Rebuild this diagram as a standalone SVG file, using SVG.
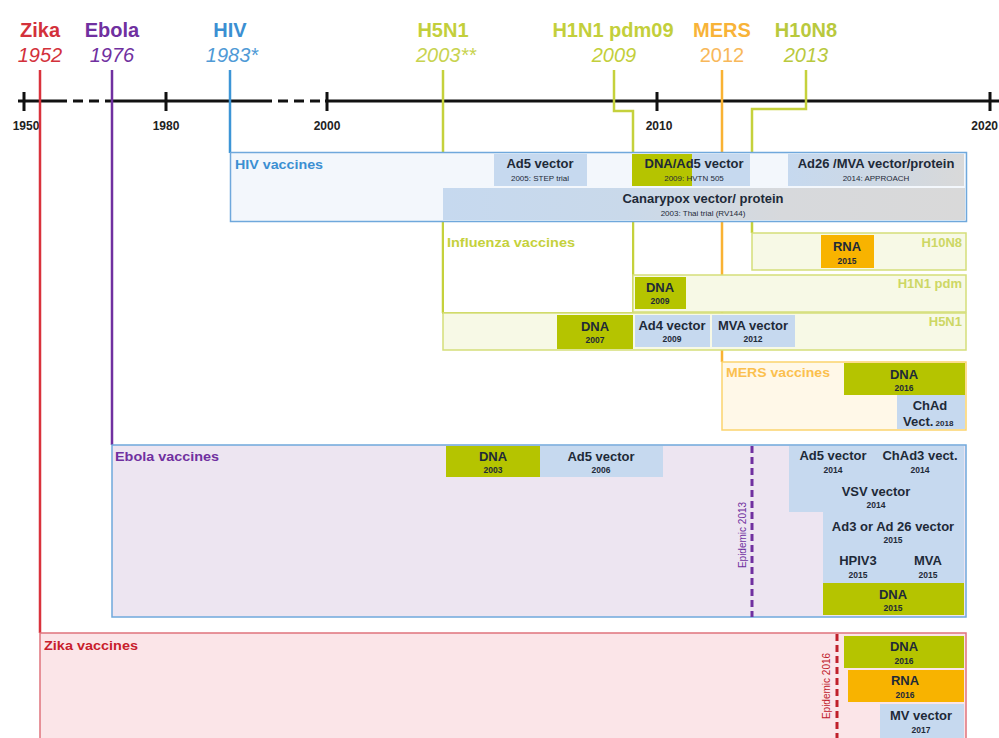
<svg xmlns="http://www.w3.org/2000/svg" width="999" height="738" viewBox="0 0 999 738">
<defs>
<linearGradient id="gCan" x1="0" x2="1" y1="0" y2="0">
<stop offset="0" stop-color="#c6d9ef"/><stop offset="0.35" stop-color="#c9d9ea"/><stop offset="0.65" stop-color="#d7d9dc"/><stop offset="1" stop-color="#d9d9d9"/>
</linearGradient>
<linearGradient id="gAd26" x1="0" x2="1" y1="0" y2="0">
<stop offset="0" stop-color="#c6d9ef"/><stop offset="0.5" stop-color="#cdd8e4"/><stop offset="1" stop-color="#d9d9d9"/>
</linearGradient>
</defs>
<style>
text{font-family:"Liberation Sans",Arial,sans-serif}
.hn{font-size:20px;font-weight:bold;text-anchor:middle}
.hy{font-size:20px;font-style:italic;text-anchor:middle}
.ax{font-size:12px;font-weight:bold;text-anchor:middle;fill:#222}
.grp{font-size:13px;font-weight:bold}
.sub{font-size:13px;font-weight:bold;text-anchor:end;fill:#cdd764}
.bl{font-size:13px;font-weight:bold;text-anchor:middle;fill:#1e2a38}
.by{font-size:8.5px;font-weight:bold;text-anchor:middle;fill:#1e2a38}
.bs{font-size:8px;text-anchor:middle;fill:#1e2a38}
.blue{fill:#c6d9ef}
.green{fill:#b5c400}
.orange{fill:#f8b300}
.conn{fill:none;stroke-width:2.5}
.axis{stroke:#111;stroke-width:3;fill:none}
</style>
<rect x="0" y="0" width="999" height="738" fill="#ffffff"/>

<g id="axis">
<path class="axis" d="M18 101H57M110 101H262M325 101H999"/>
<path class="axis" d="M57 101H110M262 101H325" stroke-dasharray="10 6"/>
<path class="axis" d="M24 92V111M166 92V111M327 92V111M657 92V111M990 92V111"/>
<text class="ax" x="26" y="130">1950</text>
<text class="ax" x="166" y="130">1980</text>
<text class="ax" x="327" y="130">2000</text>
<text class="ax" x="659" y="130">2010</text>
<text class="ax" x="998" y="130" style="text-anchor:end">2020</text>
</g>

<g id="header-zika"><text class="hn" x="40" y="37" fill="#d3313b">Zika</text><text class="hy" x="40" y="62" fill="#d3313b">1952</text></g>
<g id="header-ebola"><text class="hn" x="112" y="37" fill="#7030a0">Ebola</text><text class="hy" x="112" y="62" fill="#7030a0">1976</text></g>
<g id="header-hiv"><text class="hn" x="230" y="37" fill="#3b8fd2">HIV</text><text class="hy" x="232" y="62" fill="#4f9ad6">1983*</text></g>
<g id="header-h5n1"><text class="hn" x="443" y="37" fill="#c3cf3b">H5N1</text><text class="hy" x="446" y="62" fill="#c8d34f">2003**</text></g>
<g id="header-h1n1"><text class="hn" x="613" y="37" fill="#c3cf3b">H1N1 pdm09</text><text class="hy" x="614" y="62" fill="#c3cf3b">2009</text></g>
<g id="header-mers"><text class="hn" x="722" y="37" fill="#f8b338">MERS</text><text x="722" y="62" fill="#f8b85a" style="font-size:20px;text-anchor:middle">2012</text></g>
<g id="header-h10n8"><text class="hn" x="806" y="37" fill="#b9c93d">H10N8</text><text class="hy" x="806" y="62" fill="#b9c93d">2013</text></g>

<g id="connectors">
<path class="conn" stroke="#d9323c" d="M40 70V633"/>
<path class="conn" stroke="#7030a0" d="M112 70V445"/>
<path class="conn" stroke="#3c95d6" d="M230 70V153"/>
<path class="conn" stroke="#c5d13c" d="M443 70V313"/>
<path class="conn" stroke="#c5d13c" d="M614 70V111H633V275"/>
<path class="conn" stroke="#f9b233" d="M722 70V362"/>
<path class="conn" stroke="#c5d13c" d="M806 70V109H752V233"/>
</g>

<g id="influenza">
<rect x="443" y="221" width="190" height="92" fill="#ffffff" stroke="#c5d13c" stroke-width="2"/>
<text class="grp" x="447" y="247" fill="#c5d13c" textLength="128" lengthAdjust="spacingAndGlyphs">Influenza vaccines</text>
</g>

<g id="hiv">
<rect x="230.5" y="152.5" width="736" height="69" fill="#f3f7fc" stroke="#6fa8dc" stroke-width="1.5"/>
<text class="grp" x="235" y="169" fill="#3b8fd2" textLength="88" lengthAdjust="spacingAndGlyphs">HIV vaccines</text>
</g>
<g id="hiv-ad5">
<rect class="blue" x="494" y="154" width="93" height="32"/>
<text class="bl" x="540" y="168">Ad5 vector</text>
<text class="bs" x="540" y="181">2005: STEP trial</text>
</g>
<g id="hiv-dna-ad5">
<rect class="green" x="632" y="154" width="60" height="32"/>
<rect class="blue" x="692" y="154" width="58" height="32"/>
<text class="bl" x="694" y="168">DNA/Ad5 vector</text>
<text class="bs" x="694" y="181">2009: HVTN 505</text>
</g>
<g id="hiv-ad26">
<rect x="788" y="154" width="176" height="32" fill="url(#gAd26)"/>
<text class="bl" x="876" y="168">Ad26 /MVA vector/protein</text>
<text class="bs" x="876" y="181">2014: APPROACH</text>
</g>
<g id="hiv-canarypox">
<rect x="443" y="188" width="522" height="32" fill="url(#gCan)"/>
<text class="bl" x="703" y="203">Canarypox vector/ protein</text>
<text class="bs" x="703" y="216">2003: Thai trial (RV144)</text>
</g>

<g id="h10n8">
<rect x="752" y="233" width="214" height="37" fill="#f7f9e6" stroke="#d5de7a" stroke-width="1.5"/>
<text class="sub" x="962" y="247">H10N8</text>
</g>
<g id="h10n8-rna">
<rect class="orange" x="821" y="235" width="53" height="33"/>
<text class="bl" x="847" y="251">RNA</text>
<text class="by" x="847" y="264">2015</text>
</g>
<g id="h1n1">
<rect x="633" y="275" width="333" height="37" fill="#f7f9e6" stroke="#d5de7a" stroke-width="1.5"/>
<text class="sub" x="962" y="288">H1N1 pdm</text>
</g>
<g id="h1n1-dna">
<rect class="green" x="635" y="277" width="51" height="32"/>
<text class="bl" x="660" y="292">DNA</text>
<text class="by" x="660" y="304">2009</text>
</g>
<g id="h5n1">
<rect x="443" y="313" width="523" height="37" fill="#f7f9e6" stroke="#d5de7a" stroke-width="1.5"/>
<text class="sub" x="962" y="326">H5N1</text>
</g>
<g id="h5n1-dna">
<rect class="green" x="557" y="315" width="76" height="34"/>
<text class="bl" x="595" y="331">DNA</text>
<text class="by" x="595" y="343">2007</text>
</g>
<g id="h5n1-ad4">
<rect class="blue" x="635" y="315" width="75" height="32"/>
<text class="bl" x="672" y="330">Ad4 vector</text>
<text class="by" x="672" y="342">2009</text>
</g>
<g id="h5n1-mva">
<rect class="blue" x="712" y="315" width="83" height="32"/>
<text class="bl" x="753" y="330">MVA vector</text>
<text class="by" x="753" y="342">2012</text>
</g>

<g id="mers">
<rect x="722" y="362" width="244" height="68" fill="#fff8e8" stroke="#fbd46e" stroke-width="1.5"/>
<text class="grp" x="726" y="377" fill="#fbc04e" textLength="104" lengthAdjust="spacingAndGlyphs">MERS vaccines</text>
</g>
<g id="mers-dna">
<rect class="green" x="844" y="363" width="121" height="32"/>
<text class="bl" x="904" y="379">DNA</text>
<text class="by" x="904" y="391">2016</text>
</g>
<g id="mers-chad">
<rect class="blue" x="897" y="395" width="68" height="34"/>
<text class="bl" x="930" y="410">ChAd</text>
<text class="bl" x="903" y="426" style="text-anchor:start">Vect.<tspan style="font-size:8px"> 2018</tspan></text>
</g>

<g id="ebola">
<rect x="112" y="445" width="854" height="172" fill="#ede5f1" stroke="#6fa8dc" stroke-width="1.5"/>
<text class="grp" x="115" y="461" fill="#7030a0" textLength="104" lengthAdjust="spacingAndGlyphs">Ebola vaccines</text>
<path d="M752 446V617" stroke="#7030a0" stroke-width="3" stroke-dasharray="7 4"/>
<text x="0" y="0" transform="translate(746 535) rotate(-90)" style="font-size:10px;text-anchor:middle;fill:#7030a0">Epidemic 2013</text>
</g>
<g id="ebola-dna2003">
<rect class="green" x="446" y="446" width="94" height="31"/>
<text class="bl" x="493" y="461">DNA</text>
<text class="by" x="493" y="473">2003</text>
</g>
<g id="ebola-ad5-2006">
<rect class="blue" x="540" y="446" width="123" height="31"/>
<text class="bl" x="601" y="461">Ad5 vector</text>
<text class="by" x="601" y="473">2006</text>
</g>
<g id="ebola-ad5-2014">
<rect class="blue" x="789" y="446" width="88" height="33"/>
<text class="bl" x="833" y="460">Ad5 vector</text>
<text class="by" x="833" y="473">2014</text>
</g>
<g id="ebola-chad3">
<rect class="blue" x="877" y="446" width="87" height="33"/>
<text class="bl" x="920" y="460">ChAd3 vect.</text>
<text class="by" x="920" y="473">2014</text>
</g>
<g id="ebola-vsv">
<rect class="blue" x="789" y="479" width="175" height="33"/>
<text class="bl" x="876" y="496">VSV vector</text>
<text class="by" x="876" y="508">2014</text>
</g>
<g id="ebola-ad3">
<rect class="blue" x="823" y="512" width="141" height="36"/>
<text class="bl" x="893" y="531">Ad3 or Ad 26 vector</text>
<text class="by" x="893" y="543">2015</text>
</g>
<g id="ebola-hpiv3">
<rect class="blue" x="823" y="548" width="70" height="35"/>
<text class="bl" x="858" y="565">HPIV3</text>
<text class="by" x="858" y="578">2015</text>
</g>
<g id="ebola-mva">
<rect class="blue" x="893" y="548" width="71" height="35"/>
<text class="bl" x="928" y="565">MVA</text>
<text class="by" x="928" y="578">2015</text>
</g>
<g id="ebola-dna2015">
<rect class="green" x="823" y="583" width="141" height="32"/>
<text class="bl" x="893" y="599">DNA</text>
<text class="by" x="893" y="611">2015</text>
</g>

<g id="zika">
<rect x="40" y="633" width="926" height="115" fill="#fbe5e8" stroke="#e0737c" stroke-width="1.5"/>
<text class="grp" x="44" y="650" fill="#c8202c" textLength="94" lengthAdjust="spacingAndGlyphs">Zika vaccines</text>
<path d="M837 634V738" stroke="#c0202a" stroke-width="3" stroke-dasharray="7 4"/>
<text x="0" y="0" transform="translate(830 686) rotate(-90)" style="font-size:10px;text-anchor:middle;fill:#c0202a">Epidemic 2016</text>
</g>
<g id="zika-dna">
<rect class="green" x="844" y="636" width="120" height="32"/>
<text class="bl" x="904" y="651">DNA</text>
<text class="by" x="904" y="664">2016</text>
</g>
<g id="zika-rna">
<rect class="orange" x="848" y="670" width="116" height="32"/>
<text class="bl" x="905" y="685">RNA</text>
<text class="by" x="905" y="698">2016</text>
</g>
<g id="zika-mv">
<rect class="blue" x="880" y="704" width="84" height="34"/>
<text class="bl" x="921" y="720">MV vector</text>
<text class="by" x="921" y="733">2017</text>
</g>
</svg>
